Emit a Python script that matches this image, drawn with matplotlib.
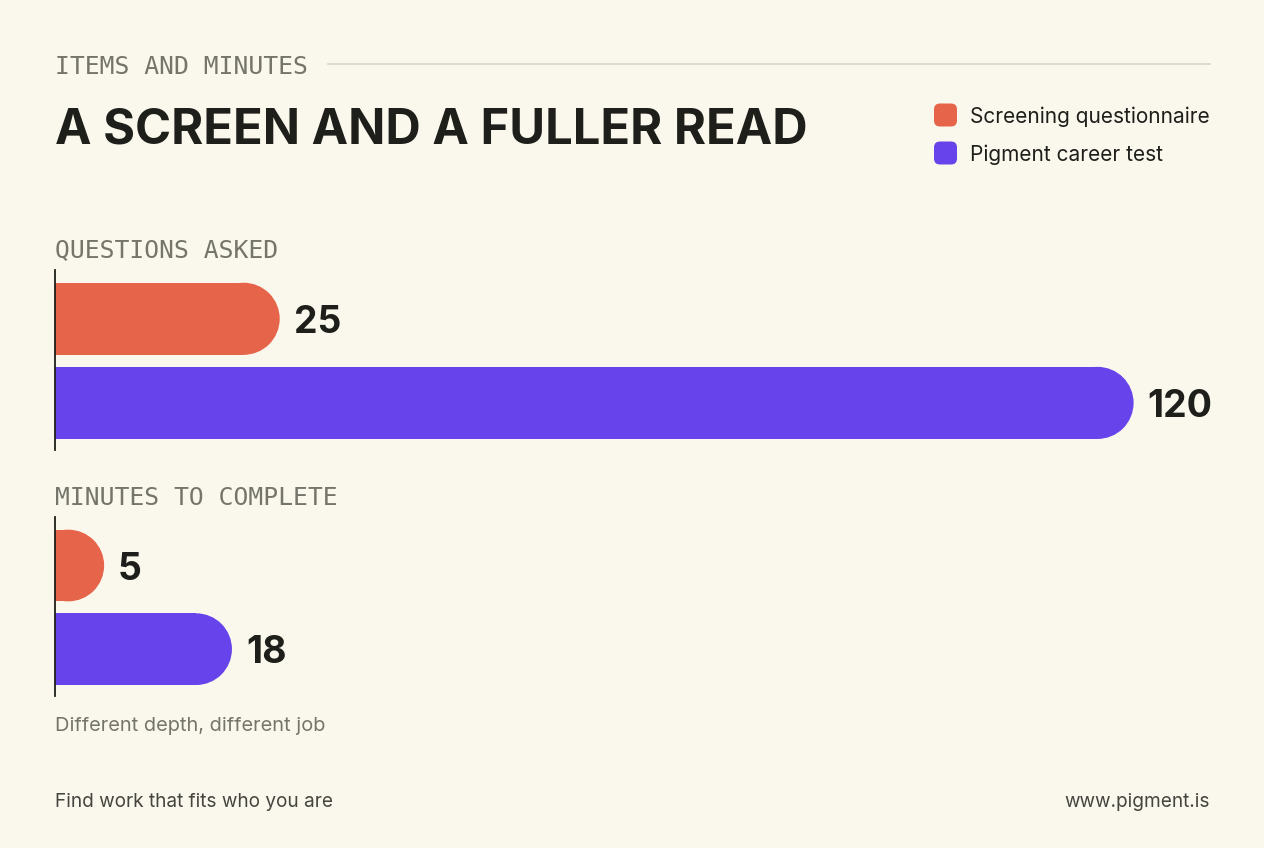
import matplotlib.pyplot as plt
from matplotlib.patches import Rectangle, Ellipse, FancyBboxPatch

# data
series = ['Screening questionnaire', 'Pigment career test']
colors = ['#E5644A', '#6643EA']
panels = ['QUESTIONS ASKED', 'MINUTES TO COMPLETE']
questions = [25, 120]
minutes = [5, 18]
panel_values = [questions, minutes]
panel_xmax = [128.5, 117.5]  # scale end of each panel axis

W, H = 1264, 848
BG = '#FAF8EC'
DARK = '#1E1E1A'
GRAY = '#75756C'
MONO = 'DejaVu Sans Mono'
SANS = ['Inter', 'DejaVu Sans']

fig = plt.figure(figsize=(W / 100, H / 100), dpi=100)
fig.patch.set_facecolor(BG)

# overlay axes in pixel units for the page furniture
over = fig.add_axes([0, 0, 1, 1])
over.set_xlim(0, W)
over.set_ylim(H, 0)
over.axis('off')
over.patch.set_alpha(0)

over.text(55, 67, 'ITEMS AND MINUTES', family=MONO, fontsize=17.8, color=GRAY,
          va='center', ha='left')
over.plot([328, 1210], [64, 64], color='#D8D6CA', lw=1.2)
over.text(55, 131, 'A SCREEN AND A FULLER READ', family=SANS, fontsize=35.2,
          fontweight='bold', color=DARK, va='center', ha='left')

# legend
for i, (name, c) in enumerate(zip(series, colors)):
    yc = 115 + i * 38
    over.add_patch(FancyBboxPatch((934, yc - 11.5), 23, 23,
                                  boxstyle='round,pad=0,rounding_size=6',
                                  fc=c, ec='none'))
    over.text(970, yc + 2, name, family=SANS, fontsize=15, color=DARK,
              va='center', ha='left')

# panel headers
panel_label_y = [250, 498]
for lab, y in zip(panels, panel_label_y):
    over.text(55, y, lab, family=MONO, fontsize=17.8, color=GRAY,
              va='center', ha='left')

over.text(55, 726, 'Different depth, different job', family=SANS, fontsize=14.4,
          color=GRAY, va='center', ha='left')
over.text(55, 802, 'Find work that fits who you are', family=SANS, fontsize=13.7,
          color='#45453F', va='center', ha='left')
over.text(1210, 802, 'www.pigment.is', family=SANS, fontsize=13.7,
          color='#45453F', va='center', ha='right')

# bar panels
panel_px = [(270, 450), (517, 696)]
bar_h = 0.857
for vals, xmax, (top, bot) in zip(panel_values, panel_xmax, panel_px):
    ax = fig.add_axes([55 / W, 1 - bot / H, 1155 / W, (bot - top) / H])
    ax.set_xlim(0, xmax)
    ax.set_ylim(1.56, -0.58)
    ax.patch.set_alpha(0)
    for s in ['top', 'right', 'bottom']:
        ax.spines[s].set_visible(False)
    ax.spines['left'].set_color(DARK)
    ax.spines['left'].set_linewidth(1.3)
    ax.spines['left'].set_zorder(5)
    ax.set_xticks([])
    ax.set_yticks([])

    # radius of rounded end in data units (circle on screen)
    ax_w_px = 1155
    ax_h_px = bot - top
    y_per_px = (1.56 + 0.58) / ax_h_px
    r_px = bar_h / y_per_px / 2
    rx = r_px * xmax / ax_w_px

    for i, (v, c) in enumerate(zip(vals, colors)):
        x0 = max(v - rx, 0)
        ax.add_patch(Rectangle((0, i - bar_h / 2), x0, bar_h, fc=c, ec='none'))
        ax.add_patch(Ellipse((v - rx, i), 2 * rx, bar_h, fc=c, ec='none'))
        ax.annotate(str(v), (v, i), xytext=(10, -3), textcoords='offset points',
                    va='center', ha='left', family=SANS, fontsize=27,
                    fontweight='bold', color=DARK)

fig.savefig('out.png', dpi=100, facecolor=BG)
